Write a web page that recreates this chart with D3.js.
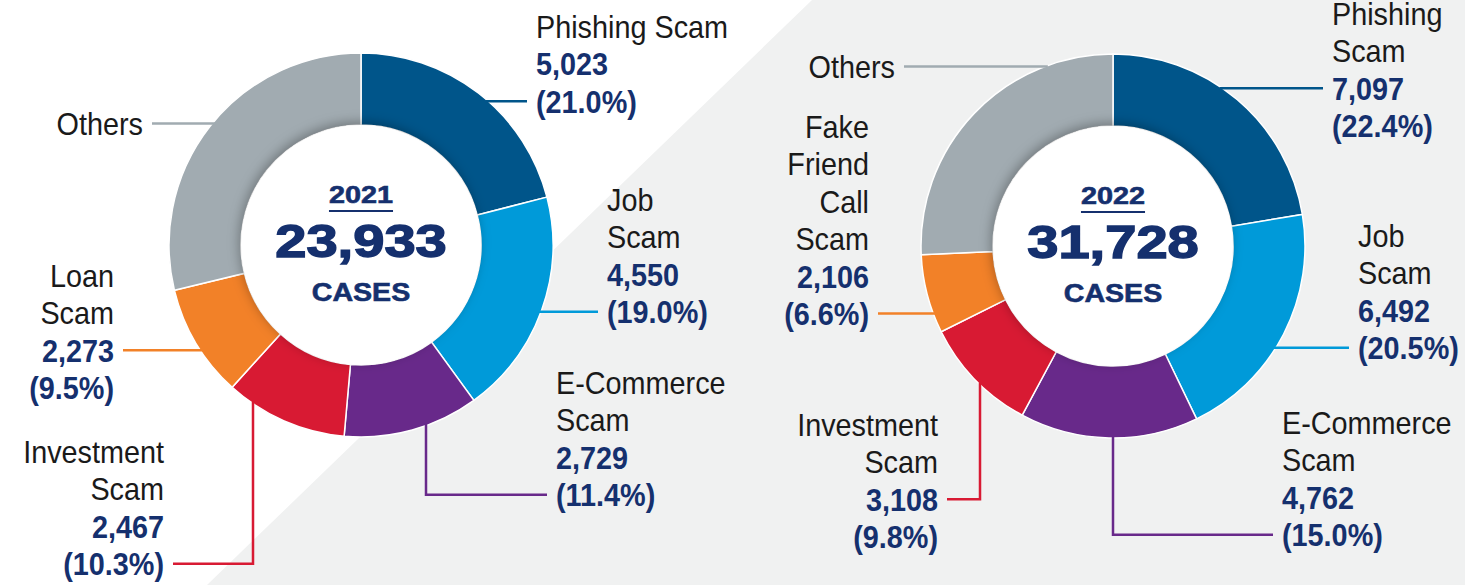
<!DOCTYPE html>
<html>
<head>
<meta charset="utf-8">
<script src="https://cdn.jsdelivr.net/npm/d3@7"></script>
<style>
  body { margin: 0; background: #fff; }
  text { font-family: "Liberation Sans", Arial, sans-serif; }
</style>
</head>
<body>
<div id="chart"></div>
<script>
// values
const years = ["2021", "2022"];
const totals = [23933, 31728];

const categories2021 = ["Phishing Scam", "Job Scam", "E-Commerce Scam", "Investment Scam", "Loan Scam", "Others"];
const cases2021 = [5023, 4550, 2729, 2467, 2273, 6891];
const shares2021 = [21.0, 19.0, 11.4, 10.3, 9.5, null];

const categories2022 = ["Phishing Scam", "Job Scam", "E-Commerce Scam", "Investment Scam", "Fake Friend Call Scam", "Others"];
const cases2022 = [7097, 6492, 4762, 3108, 2106, 8163];
const shares2022 = [22.4, 20.5, 15.0, 9.8, 6.6, null];

const sliceColors = ["#00558a", "#009ad9", "#68298a", "#d81a33", "#f28128", "#a1abb1"];

// how names wrap in the picture
const lines2021 = [["Phishing Scam"], ["Job", "Scam"], ["E-Commerce", "Scam"], ["Investment", "Scam"], ["Loan", "Scam"], ["Others"]];
const lines2022 = [["Phishing", "Scam"], ["Job", "Scam"], ["E-Commerce", "Scam"], ["Investment", "Scam"], ["Fake", "Friend", "Call", "Scam"], ["Others"]];

// label placement: x, first baseline, anchor, row that carries the leader, optional elbow x
const place2021 = [
  {x: 536, y: 38, anchor: "start", row: 2},
  {x: 607, y: 211, anchor: "start", row: 3},
  {x: 556, y: 394, anchor: "start", row: 3, vx: 426},
  {x: 164, y: 463, anchor: "end", row: 3, vx: 253},
  {x: 114, y: 287, anchor: "end", row: 2},
  {x: 143, y: 135, anchor: "end", row: 0}
];
const place2022 = [
  {x: 1332, y: 25, anchor: "start", row: 2},
  {x: 1358, y: 247, anchor: "start", row: 3},
  {x: 1282, y: 434, anchor: "start", row: 3, vx: 1113},
  {x: 938, y: 436, anchor: "end", row: 2, vx: 980},
  {x: 869, y: 138, anchor: "end", row: 5},
  {x: 895, y: 78, anchor: "end", row: 0}
];

const W = 1465, H = 585;
const R = 192, r = 120, pitch = 37.4;
const navy = "#15306e";

const svg = d3.select("#chart").append("svg").attr("width", W).attr("height", H);

// background with the grey diagonal panel
svg.append("rect").attr("width", W).attr("height", H).attr("fill", "#ffffff");
svg.append("polygon")
   .attr("points", [[812, 0], [W, 0], [W, H], [207, H]].map(p => p.join(",")).join(" "))
   .attr("fill", "#f0f1f1");

var defs = svg.append("defs");
var f = defs.append("filter").attr("id", "shadow").attr("x", "-30%").attr("y", "-30%").attr("width", "160%").attr("height", "160%");
f.append("feDropShadow").attr("dx", -2).attr("dy", -3).attr("stdDeviation", 6)
 .attr("flood-color", "#000").attr("flood-opacity", 0.3);

const pie = d3.pie().sort(null).value(d => d);
const arc = d3.arc().innerRadius(r).outerRadius(R);
const fmt = d3.format(",");

const charts = [
  {year: years[0], total: totals[0], cases: cases2021, shares: shares2021, lines: lines2021, place: place2021, cx: 361, cy: 245},
  {year: years[1], total: totals[1], cases: cases2022, shares: shares2022, lines: lines2022, place: place2022, cx: 1113, cy: 246}
];

charts.forEach(function(c) {
  var g = svg.append("g").attr("transform", "translate(" + c.cx + "," + c.cy + ")");

  g.selectAll("path.slice")
   .data(pie(c.cases))
   .enter().append("path")
   .attr("class", "slice")
   .attr("d", arc)
   .attr("fill", (d, i) => sliceColors[i])
   .attr("stroke", "#fff")
   .attr("stroke-width", 1.5);

  g.append("circle").attr("r", r).attr("fill", "#fff").attr("filter", "url(#shadow)");

  // centre text (heavier than plain bold, so a thin stroke is added)
  var yr = g.append("text").attr("text-anchor", "middle")
    .attr("transform", "translate(0,-42) scale(1.2,1)")
    .attr("font-size", 24).attr("font-weight", "bold").attr("fill", navy)
    .attr("stroke", navy).attr("stroke-width", 0.6).text(c.year);
  var yw = yr.node().getComputedTextLength() * 1.2;
  g.append("line").attr("x1", -yw / 2).attr("x2", yw / 2).attr("y1", -34).attr("y2", -34)
   .attr("stroke", navy).attr("stroke-width", 2);
  g.append("text").attr("text-anchor", "middle")
    .attr("transform", "translate(0,12) scale(1.22,1)")
    .attr("font-size", 46).attr("font-weight", "bold").attr("fill", navy)
    .attr("stroke", navy).attr("stroke-width", 1.4).text(fmt(c.total));
  g.append("text").attr("text-anchor", "middle")
    .attr("transform", "translate(0,56) scale(1.1,1)")
    .attr("font-size", 26).attr("font-weight", "bold").attr("fill", navy)
    .attr("stroke", navy).attr("stroke-width", 0.6).text("CASES");

  // labels and leader lines
  c.place.forEach(function(p, i) {
    var rows = c.lines[i].map(t => ({t: t, bold: false}));
    rows.push({t: fmt(c.cases[i]), bold: true});
    if (c.shares[i] != null) rows.push({t: "(" + c.shares[i].toFixed(1) + "%)", bold: true});
    if (c.shares[i] == null) rows.pop();

    var lg = svg.append("g").attr("transform", "translate(" + p.x + "," + p.y + ") scale(0.9,1)");
    lg.selectAll("text").data(rows).enter().append("text")
      .attr("y", (d, k) => k * pitch)
      .attr("text-anchor", p.anchor)
      .attr("font-size", 32)
      .attr("font-weight", d => d.bold ? "bold" : "normal")
      .attr("fill", d => d.bold ? navy : "#1a1a1a")
      .text(d => d.t);

    var ly = p.y + p.row * pitch - 11.5;
    var side = p.anchor === "end" ? -1 : 1;
    var tx = p.x - side * 9;
    var pts;
    if (p.vx != null) {
      var dx = p.vx - c.cx;
      var y0 = c.cy + Math.sqrt(R * R - dx * dx);
      pts = [[p.vx, y0 - 2], [p.vx, ly], [tx, ly]];
    } else {
      var dy = ly - c.cy;
      var x0 = c.cx + side * Math.sqrt(R * R - dy * dy);
      pts = [[x0 - side * 3, ly], [tx, ly]];
    }
    svg.append("path")
       .attr("d", d3.line()(pts))
       .attr("fill", "none")
       .attr("stroke", sliceColors[i])
       .attr("stroke-width", 2.5);
  });
});
</script>
</body>
</html>
